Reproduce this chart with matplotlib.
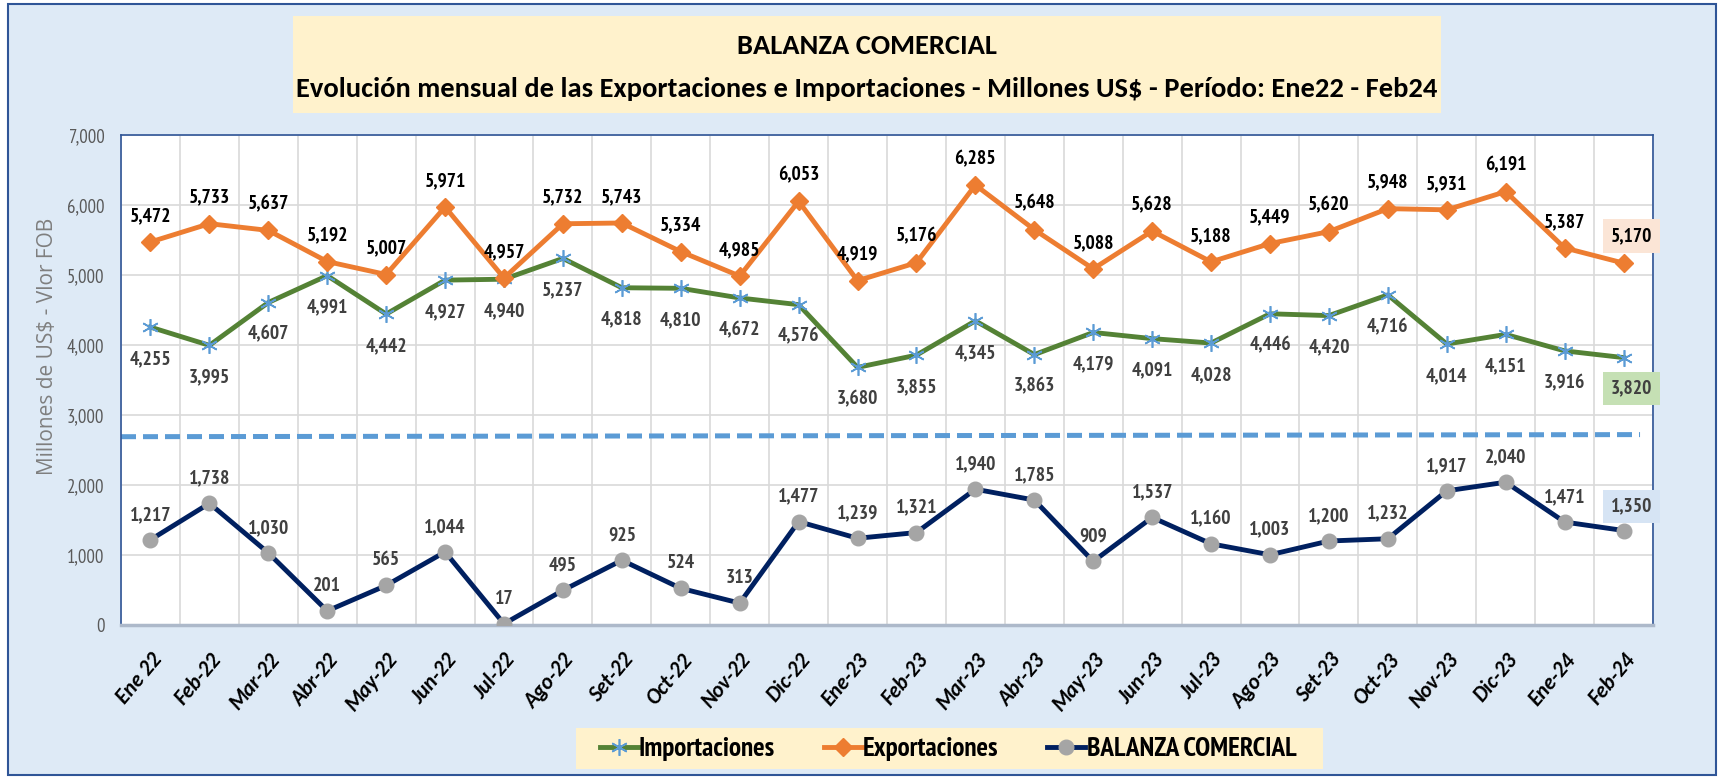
import numpy as np
import matplotlib.pyplot as plt
from matplotlib.patches import Rectangle
from matplotlib.ticker import FuncFormatter, MultipleLocator

W, H = 1722, 779
CAL = ["Carlito", "Lato", "DejaVu Sans"]
NARROW = ["PT Sans Narrow", "Archivo Narrow", "DejaVu Sans"]

months = ["Ene 22", "Feb-22", "Mar-22", "Abr-22", "May-22", "Jun-22", "Jul-22",
          "Ago-22", "Set-22", "Oct-22", "Nov-22", "Dic-22", "Ene-23", "Feb-23",
          "Mar-23", "Abr-23", "May-23", "Jun-23", "Jul-23", "Ago-23", "Set-23",
          "Oct-23", "Nov-23", "Dic-23", "Ene-24", "Feb-24"]
exportaciones = [5472, 5733, 5637, 5192, 5007, 5971, 4957, 5732, 5743, 5334, 4985,
                 6053, 4919, 5176, 6285, 5648, 5088, 5628, 5188, 5449, 5620, 5948,
                 5931, 6191, 5387, 5170]
importaciones = [4255, 3995, 4607, 4991, 4442, 4927, 4940, 5237, 4818, 4810, 4672,
                 4576, 3680, 3855, 4345, 3863, 4179, 4091, 4028, 4446, 4420, 4716,
                 4014, 4151, 3916, 3820]
balanza = [1217, 1738, 1030, 201, 565, 1044, 17, 495, 925, 524, 313, 1477, 1239,
           1321, 1940, 1785, 909, 1537, 1160, 1003, 1200, 1232, 1917, 2040, 1471, 1350]
# hand-drawn dashed separator (start / end level)
separador = [2690, 2720]

ORANGE = "#ED7D31"
GREEN = "#548235"
NAVY = "#002060"
LBLUE = "#5B9BD5"
GRAY = "#A5A5A5"
CREAM = "#FFF2CC"
BG = "#DEEAF6"


def fx(x):
    return x / W


def fy(y):
    return 1 - y / H


fig = plt.figure(figsize=(W / 100, H / 100), dpi=100, facecolor="white")

# outer panel and title box
fig.patches.append(Rectangle((fx(8), fy(775)), fx(1708), 771 / H, transform=fig.transFigure,
                             facecolor=BG, edgecolor="#2F5597", linewidth=1.5, zorder=-2))
fig.patches.append(Rectangle((fx(293), fy(113)), fx(1148), 97 / H, transform=fig.transFigure,
                             facecolor=CREAM, edgecolor="none", zorder=-1))
fig.text(fx(867), fy(46), "BALANZA COMERCIAL", ha="center", va="center",
         fontsize=20.5, fontweight="bold", family=CAL)
fig.text(fx(867), fy(89),
         "Evolución mensual de las Exportaciones e Importaciones - Millones US$ - Período: Ene22 - Feb24",
         ha="center", va="center", fontsize=20.5, fontweight="bold", family=CAL)

ax = fig.add_axes([fx(121), fy(625), fx(1532), 490 / H], zorder=2)
ax.set_facecolor("white")
x = np.arange(len(months))

l_imp, = ax.plot(x, importaciones, color=GREEN, lw=3.5, marker=(6, 2, 0), ms=12,
                 mec=LBLUE, mfc=LBLUE, mew=1.2, zorder=3, label="Importaciones")
l_exp, = ax.plot(x, exportaciones, color=ORANGE, lw=3.5, marker="D", ms=9,
                 mec=ORANGE, mfc=ORANGE, zorder=3, label="Exportaciones")
l_bal, = ax.plot(x, balanza, color=NAVY, lw=3.5, marker="o", ms=10.5,
                 mec=GRAY, mfc=GRAY, zorder=3, label="BALANZA COMERCIAL")
ax.plot([-0.5, 25.28], separador, color=LBLUE, lw=3.6, dashes=(3, 1.4), zorder=2,
        solid_capstyle="butt", dash_capstyle="butt")

n = len(months)
for i in range(n):
    last = i == n - 1
    dx = 8 if last else 0
    kw = dict(textcoords="offset pixels", ha="center", va="center", fontsize=14,
              fontweight="bold", family=NARROW, zorder=4)
    ax.annotate(f"{exportaciones[i]:,}", (i, exportaciones[i]), xytext=(dx, 27 if last else 26),
                color="black",
                bbox=dict(boxstyle="square,pad=0.4", fc="#FBE5D6", ec="none") if last else None, **kw)
    ax.annotate(f"{importaciones[i]:,}", (i, importaciones[i]), xytext=(dx, -31 if last else -32),
                color="#404040",
                bbox=dict(boxstyle="square,pad=0.4", fc="#C5E0B4", ec="none") if last else None, **kw)
    ax.annotate(f"{balanza[i]:,}", (i, balanza[i]), xytext=(dx, 24 if last else 25),
                color="#404040",
                bbox=dict(boxstyle="square,pad=0.4", fc="#D6E4F4", ec="none") if last else None, **kw)

ax.set_xlim(-0.5, n - 0.5)
ax.set_ylim(0, 7000)
ax.yaxis.set_major_locator(MultipleLocator(1000))
ax.yaxis.set_major_formatter(FuncFormatter(lambda v, p: f"{int(v):,}"))
ax.set_xticks(x)
ax.set_xticklabels(months, rotation=50, ha="right", rotation_mode="anchor",
                   fontsize=15.5, fontweight="bold", fontstyle="italic", family=CAL)
ax.set_xticks(np.arange(-0.5, n, 1), minor=True)
ax.tick_params(axis="x", which="both", length=0, pad=18)
ax.tick_params(axis="y", length=0, pad=12, labelsize=13.5, labelcolor="#595959")
for lab in ax.get_yticklabels():
    lab.set_family(NARROW)
ax.grid(axis="y", which="major", color="#D9D9D9", lw=1.2)
ax.grid(axis="x", which="minor", color="#D9D9D9", lw=1.2)
ax.set_axisbelow(True)
for s in ["top", "right", "left"]:
    ax.spines[s].set_color("#2F5597")
    ax.spines[s].set_linewidth(1.2)
ax.spines["bottom"].set_color("#ADB9CA")
ax.spines["bottom"].set_linewidth(2.5)

fig.text(fx(48), fy(346), "Millones de US$ - Vlor FOB", rotation=90, ha="center", va="center",
         fontsize=15, color="#7F7F7F", family=["Open Sans", "DejaVu Sans"])

# legend
fig.patches.append(Rectangle((fx(576), fy(769)), fx(747), 41 / H, transform=fig.transFigure,
                             facecolor=CREAM, edgecolor="none", zorder=-1))
leg = fig.legend(handles=[l_imp, l_exp, l_bal], loc="center", bbox_to_anchor=(fx(948), fy(749)),
                 ncol=3, frameon=False, handlelength=1.4, handletextpad=0.05, columnspacing=1.8,
                 prop={"family": NARROW, "weight": "bold", "size": 19.5})

fig.savefig("out.png", dpi=100, facecolor="white")
